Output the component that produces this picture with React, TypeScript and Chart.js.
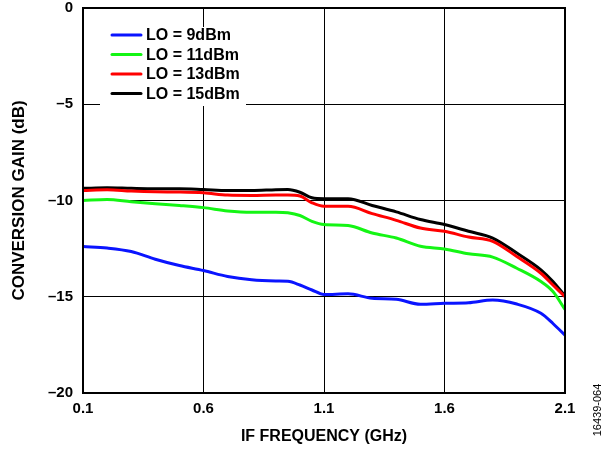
import { useEffect, useRef } from 'react';
import { Chart, registerables } from 'chart.js';

Chart.register(...registerables);

const freqGHz = [0.1, 0.2, 0.3, 0.4, 0.5, 0.6, 0.7, 0.8, 0.9, 0.95, 1.0, 1.05, 1.1, 1.2, 1.3, 1.4, 1.5, 1.6, 1.7, 1.8, 1.9, 2.0, 2.05, 2.1];
const lo9 = [-12.39, -12.47, -12.65, -13.05, -13.38, -13.64, -13.95, -14.12, -14.18, -14.2, -14.39, -14.65, -14.88, -14.85, -15.08, -15.13, -15.39, -15.34, -15.31, -15.17, -15.38, -15.86, -16.39, -17.0];
const lo11 = [-10.0, -9.95, -10.07, -10.17, -10.26, -10.37, -10.54, -10.61, -10.61, -10.64, -10.78, -11.08, -11.25, -11.3, -11.69, -11.95, -12.38, -12.52, -12.77, -12.94, -13.52, -14.21, -14.73, -15.66];
const lo13 = [-9.48, -9.44, -9.51, -9.55, -9.56, -9.6, -9.72, -9.74, -9.72, -9.72, -9.77, -10.12, -10.3, -10.3, -10.68, -11.03, -11.43, -11.6, -11.9, -12.12, -12.91, -13.78, -14.39, -15.0];
const lo15 = [-9.37, -9.34, -9.37, -9.39, -9.39, -9.43, -9.48, -9.48, -9.44, -9.43, -9.57, -9.86, -9.91, -9.91, -10.26, -10.59, -10.99, -11.25, -11.6, -11.95, -12.73, -13.6, -14.21, -14.96];

const seriesLabels = ['LO = 9dBm', 'LO = 11dBm', 'LO = 13dBm', 'LO = 15dBm'];
const seriesColors = ['#0a14ff', '#14f514', '#ff0000', '#000000'];
const xTicks = [0.1, 0.6, 1.1, 1.6, 2.1];
const yTicks = [-20, -15, -10, -5, 0];
const figureId = '16439-064';

const FONT = '"Liberation Sans", Arial, sans-serif';

const overlayPlugin = {
  id: 'overlay',
  afterDatasetsDraw(chart: any) {
    const { ctx } = chart;
    ctx.save();
    const bx = 100, by = 27, bw = 146, bh = 79;
    ctx.fillStyle = '#ffffff';
    ctx.fillRect(bx, by, bw, bh);
    ctx.font = `bold 16px ${FONT}`;
    ctx.textBaseline = 'middle';
    ctx.textAlign = 'left';
    chart.data.datasets.forEach((ds: any, i: number) => {
      const y = 35 + i * 19.5;
      ctx.strokeStyle = ds.borderColor;
      ctx.lineWidth = 3;
      ctx.lineCap = 'round';
      ctx.beginPath();
      ctx.moveTo(112, y);
      ctx.lineTo(141, y);
      ctx.stroke();
      ctx.fillStyle = '#000';
      ctx.fillText(ds.label, 146, y + 1);
    });
    ctx.restore();
  },
  afterDraw(chart: any) {
    const { ctx, chartArea } = chart;
    ctx.save();
    ctx.strokeStyle = '#000';
    ctx.lineWidth = 2;
    ctx.strokeRect(chartArea.left, chartArea.top, chartArea.right - chartArea.left, chartArea.bottom - chartArea.top);
    ctx.translate(598, 410);
    ctx.rotate(-Math.PI / 2);
    ctx.font = `11px ${FONT}`;
    ctx.fillStyle = '#000';
    ctx.textAlign = 'center';
    ctx.textBaseline = 'middle';
    ctx.fillText(figureId, 0, 0);
    ctx.restore();
  },
};

export default function App() {
  const ref = useRef<HTMLCanvasElement>(null);
  useEffect(() => {
    if (!ref.current) return;
    const series = [lo9, lo11, lo13, lo15];
    const chart = new Chart(ref.current, {
      type: 'line',
      data: {
        datasets: series.map((s, i) => ({
          label: seriesLabels[i],
          data: freqGHz.map((f, j) => ({ x: f, y: s[j] })),
          borderColor: seriesColors[i],
          backgroundColor: seriesColors[i],
          borderWidth: 3,
          pointRadius: 0,
          tension: 0.4,
          cubicInterpolationMode: 'monotone' as const,
          fill: false,
        })),
      },
      options: {
        animation: false,
        responsive: false,
        events: [],
        layout: { padding: { left: 0, top: 0, right: 48, bottom: 0 } },
        plugins: { legend: { display: false }, tooltip: { enabled: false } },
        scales: {
          x: {
            type: 'linear',
            min: 0.1,
            max: 2.1,
            afterBuildTicks: (scale: any) => {
              scale.ticks = xTicks.map((v) => ({ value: v }));
            },
            afterFit: (scale: any) => {
              scale.height = 56;
            },
            ticks: {
              color: '#000',
              font: { family: FONT, size: 15, weight: 'bold' },
              padding: 7,
              maxRotation: 0,
              callback: (v: any) => String(Math.round(Number(v) * 10) / 10),
            },
            grid: { color: '#000', lineWidth: 1, drawTicks: false },
            border: { display: true, color: '#000', width: 2 },
            title: {
              display: true,
              text: 'IF FREQUENCY (GHz)',
              color: '#000',
              font: { family: FONT, size: 16, weight: 'bold' },
              padding: { top: 0, bottom: 3 },
            },
          },
          y: {
            type: 'linear',
            min: -20,
            max: 0,
            afterBuildTicks: (scale: any) => {
              scale.ticks = yTicks.map((v) => ({ value: v }));
            },
            afterFit: (scale: any) => {
              scale.width = 83;
              scale.paddingTop = 8;
              scale.paddingBottom = 0;
            },
            ticks: {
              color: '#000',
              font: { family: FONT, size: 15, weight: 'bold' },
              padding: 10,
              callback: (v: any) => (Number(v) < 0 ? '\u2013' + Math.abs(Number(v)) : String(v)),
            },
            grid: { color: '#000', lineWidth: 1, drawTicks: false },
            border: { display: true, color: '#000', width: 2 },
            title: {
              display: true,
              text: 'CONVERSION GAIN (dB)',
              color: '#000',
              font: { family: FONT, size: 17, weight: 'bold' },
              padding: { top: 9, bottom: 0 },
            },
          },
        },
      },
      plugins: [overlayPlugin],
    });
    return () => chart.destroy();
  }, []);
  return (
    <div style={{ position: 'absolute', left: 0, top: 0, width: 613, height: 449 }}>
      <canvas ref={ref} width={613} height={449} />
    </div>
  );
}
